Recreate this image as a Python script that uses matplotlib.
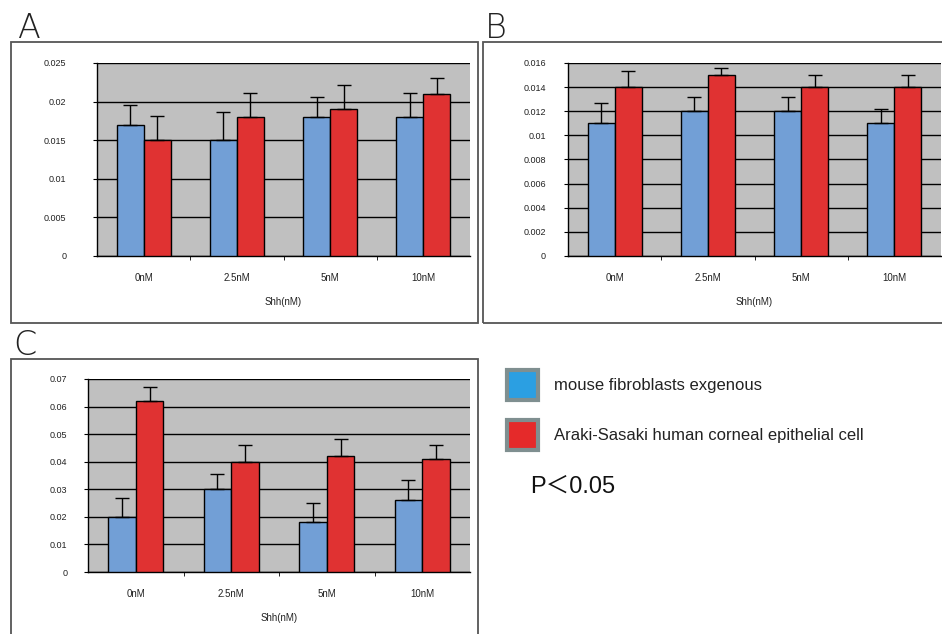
import matplotlib
matplotlib.use('Agg')
import matplotlib.pyplot as plt
import matplotlib.patches as patches
import numpy as np

plt.rcParams['font.family'] = ['Liberation Sans', 'DejaVu Sans']

doses = ['0nM', '2.5nM', '5nM', '10nM']

# panel A
a_blue = [0.017, 0.015, 0.018, 0.018]
a_blue_err = [0.0026, 0.0036, 0.0026, 0.0031]
a_red = [0.015, 0.018, 0.019, 0.021]
a_red_err = [0.0031, 0.0031, 0.0031, 0.0020]
a_ticks = [0, 0.005, 0.01, 0.015, 0.02, 0.025]

# panel B
b_blue = [0.011, 0.012, 0.012, 0.011]
b_blue_err = [0.00165, 0.0012, 0.0012, 0.0012]
b_red = [0.014, 0.015, 0.014, 0.014]
b_red_err = [0.0013, 0.0006, 0.0010, 0.0010]
b_ticks = [0, 0.002, 0.004, 0.006, 0.008, 0.01, 0.012, 0.014, 0.016]

# panel C
c_blue = [0.020, 0.030, 0.018, 0.026]
c_blue_err = [0.0070, 0.0055, 0.0070, 0.0075]
c_red = [0.062, 0.040, 0.042, 0.041]
c_red_err = [0.0050, 0.0060, 0.0063, 0.0050]
c_ticks = [0, 0.01, 0.02, 0.03, 0.04, 0.05, 0.06, 0.07]

series_names = ['mouse fibroblasts exgenous',
                'Araki-Sasaki human corneal epithelial cell']

W, H = 942, 634
fig = plt.figure(figsize=(W / 100, H / 100), dpi=100)


def px_axes(x, top, w, h):
    return fig.add_axes([x / W, 1 - (top + h) / H, w / W, h / H])


def box(x0, y0, x1, y1):
    r = patches.Rectangle((x0 / W, 1 - y1 / H), (x1 - x0) / W, (y1 - y0) / H,
                          transform=fig.transFigure, fill=False,
                          edgecolor='#555555', lw=1.3, clip_on=False)
    fig.patches.append(r)


def panel(ax, blue, blue_err, red, red_err, ticks, pad):
    x = np.arange(len(doses))
    w = 0.29
    ax.set_facecolor('#c0c0c0')
    ax.bar(x - w / 2, blue, w, color='#729fd6', edgecolor='black', lw=1, zorder=3)
    ax.bar(x + w / 2, red, w, color='#e03232', edgecolor='black', lw=1, zorder=3)
    z = np.zeros(len(doses))
    ax.errorbar(x - w / 2, blue, yerr=[z, blue_err], fmt='none', ecolor='black',
                elinewidth=1, capsize=5, capthick=1, zorder=4)
    ax.errorbar(x + w / 2, red, yerr=[z, red_err], fmt='none', ecolor='black',
                elinewidth=1, capsize=5, capthick=1, zorder=4)
    ax.set_xlim(-0.5, len(doses) - 0.5)
    ax.set_ylim(0, ticks[-1])
    ax.set_yticks(ticks)
    ax.set_yticklabels(['%g' % t for t in ticks], fontsize=6.5, color='#222222')
    ax.yaxis.grid(True, color='black', lw=1)
    ax.set_axisbelow(True)
    ax.tick_params(axis='y', length=3, pad=pad)
    ax.set_xticks(x)
    ax.set_xticklabels(doses, fontsize=7, color='#222222')
    ax.set_xticks(x[:-1] + 0.5, minor=True)
    ax.tick_params(axis='x', which='major', length=0, pad=12)
    ax.tick_params(axis='x', which='minor', length=3)
    ax.set_xlabel('Shh(nM)', fontsize=7, color='#222222')
    ax.xaxis.set_label_coords(0.5, -0.215)
    for s in ['top', 'right']:
        ax.spines[s].set_visible(False)
    ax.spines['left'].set_linewidth(1)
    ax.spines['bottom'].set_linewidth(1)


# outer frames
box(11, 42, 478, 323)
box(483, 42, 950, 323)
box(11, 359, 478, 650)

axA = px_axes(97, 63, 373, 193)
panel(axA, a_blue, a_blue_err, a_red, a_red_err, a_ticks, 19)
axB = px_axes(568, 63, 373, 193)
panel(axB, b_blue, b_blue_err, b_red, b_red_err, b_ticks, 13)
axC = px_axes(88, 379, 382, 193)
panel(axC, c_blue, c_blue_err, c_red, c_red_err, c_ticks, 12)

for lab, lx, ly in [('A', 18, 38), ('B', 485, 38), ('C', 13, 355)]:
    fig.text(lx / W, 1 - ly / H, lab, fontsize=24, family='DejaVu Sans',
             fontweight='light', color='#222222', va='baseline')

handles = [patches.Patch(facecolor='#2b9fe2', edgecolor='#7f8f90', lw=3),
           patches.Patch(facecolor='#e52a2a', edgecolor='#7f8f90', lw=3)]
fig.legend(handles, series_names, loc='upper left',
           bbox_to_anchor=(507 / W, 1 - 370 / H), frameon=False,
           fontsize=12, handlelength=1.85, handleheight=2.4,
           labelspacing=1.2, handletextpad=1.0, borderpad=0, borderaxespad=0,
           labelcolor='#222222')

fig.text(530 / W, 1 - 487 / H, 'P＜0.05', fontsize=17,
         family=['Liberation Sans', 'Noto Sans CJK JP'], color='#111111',
         va='center')

fig.savefig('out.png', dpi=100)
